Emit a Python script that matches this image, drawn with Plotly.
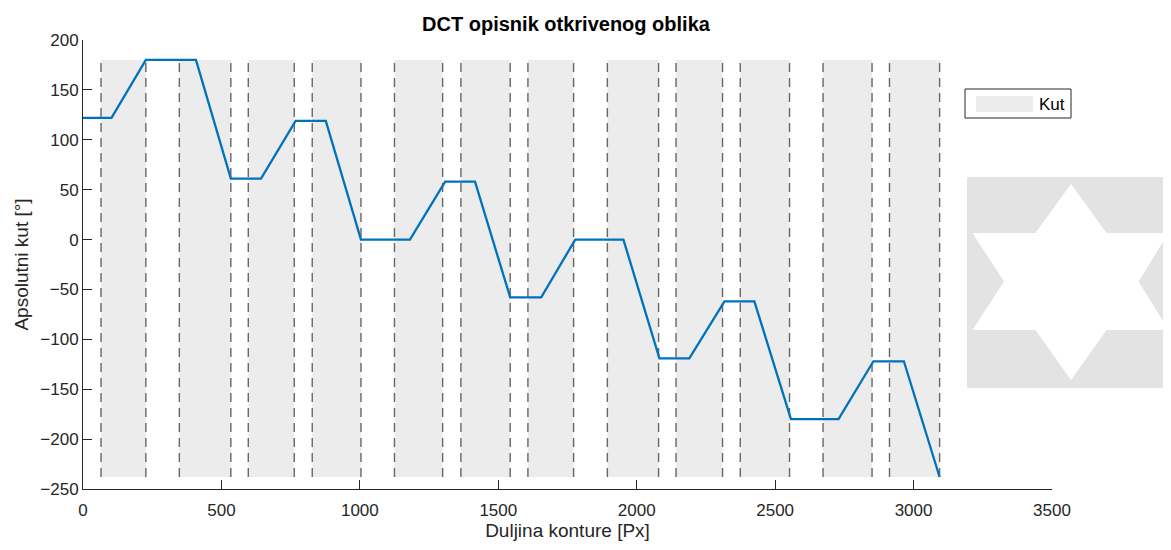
import plotly.graph_objects as go

# ---------------------------------------------------------------- podaci
# krivulja apsolutnog kuta po duljini konture
duljina = [0, 103, 227, 408, 534, 643, 768, 877, 1004, 1181, 1308, 1416, 1543,
           1655, 1778, 1952, 2082, 2190, 2317, 2425, 2557, 2729, 2855, 2965, 3094]
kut = [122, 122, 180, 180, 61, 61, 119, 119, 0, 0, 58, 58, -58,
       -58, 0, 0, -119, -119, -62, -62, -180, -180, -122, -122, -238]

# osjencani segmenti (pocetak / kraj)
seg_pocetak = [65, 348, 597, 828, 1125, 1365, 1607, 1894, 2142, 2374, 2673, 2913]
seg_kraj = [227, 534, 763, 1004, 1299, 1543, 1772, 2079, 2310, 2552, 2850, 3094]

# stranica ima 8px margine tijela -> figura je pomaknuta
OFF = 8
W, H = 1171 - OFF, 550 - OFF
L_SCR, R_SCR, T_SCR, B_SCR = 83, 1052, 40, 489   # rub osi na ekranu
ML, MR, MT, MB = L_SCR - OFF, W - (R_SCR - OFF), T_SCR - OFF, H - (B_SCR - OFF)
PW, PH = R_SCR - L_SCR, B_SCR - T_SCR


def px(x):
    return (x - L_SCR) / PW


def py(y):
    return (B_SCR - y) / PH


y_min, y_max = min(kut), max(kut)

# pravokutnici segmenata kao jedan trace
rx, ry = [], []
for a, b in zip(seg_pocetak, seg_kraj):
    rx += [a, b, b, a, a, None]
    ry += [y_min, y_min, y_max, y_max, y_min, None]

# isprekidane granice
dx, dy = [], []
for g in seg_pocetak + seg_kraj:
    dx += [g, g, None]
    dy += [y_min, y_max, None]

fig = go.Figure()

fig.add_trace(go.Scatter(
    x=rx, y=ry, fill='toself', fillcolor='#ececec', mode='none',
    name='Kut', hoverinfo='skip', showlegend=False
))

fig.add_trace(go.Scatter(
    x=dx, y=dy, mode='lines', showlegend=False, hoverinfo='skip',
    line=dict(color='#666666', width=1.4, dash='9px,6px')
))

fig.add_trace(go.Scatter(
    x=duljina, y=kut, mode='lines', showlegend=False,
    line=dict(color='#0072BD', width=2.3)
))

# slicica oblika (zvijezda) desno
star_px = [(1071, 184), (1106.5, 233), (1168.5, 233), (1138.5, 281.5), (1168.5, 330),
           (1106.5, 330), (1071, 380), (1035.5, 330), (972.5, 330), (1004, 281.5),
           (972.5, 233), (1035.5, 233)]
path = 'M ' + ' L '.join(f'{px(a):.5f},{py(b):.5f}' for a, b in star_px) + ' Z'

shapes = [
    dict(type='rect', xref='paper', yref='paper', x0=px(967), x1=px(1180),
         y0=py(388), y1=py(177), fillcolor='#e3e3e3', line_width=0, layer='above'),
    dict(type='path', xref='paper', yref='paper', path=path,
         fillcolor='white', line_width=0, layer='above'),
    # legenda (okvir + uzorak)
    dict(type='rect', xref='paper', yref='paper', x0=px(965), x1=px(1071),
         y0=py(118), y1=py(89), fillcolor='white', line=dict(color='#262626', width=1),
         layer='above'),
    dict(type='rect', xref='paper', yref='paper', x0=px(976), x1=px(1033),
         y0=py(112), y1=py(96), fillcolor='#ececec', line_width=0, layer='above'),
]

annotations = [
    dict(text='Kut', xref='paper', yref='paper', x=px(1037), y=py(104),
         xanchor='left', yanchor='middle', showarrow=False,
         font=dict(size=17, color='black')),
]

fig.update_layout(
    width=W, height=H,
    margin=dict(l=ML, r=MR, t=MT, b=MB),
    plot_bgcolor='white', paper_bgcolor='white',
    font=dict(family='Liberation Sans, Arial', size=17, color='#262626'),
    title=dict(text='<b>DCT opisnik otkrivenog oblika</b>', x=px(566), xref='paper',
               xanchor='center', y=1 - (24 - OFF) / H, yanchor='middle',
               font=dict(size=20, color='black')),
    xaxis=dict(range=[0, 3500], tickvals=[0, 500, 1000, 1500, 2000, 2500, 3000, 3500],
               showgrid=False, zeroline=False, showline=True, linecolor='#262626',
               linewidth=1, ticks='inside', ticklen=9, tickcolor='#262626',
               ticklabelstandoff=6,
               title=dict(text='Duljina konture [Px]', standoff=4, font=dict(size=19))),
    yaxis=dict(range=[-250, 200], tickvals=list(range(-250, 201, 50)),
               showgrid=False, zeroline=False, showline=True, linecolor='#262626',
               linewidth=1, ticks='inside', ticklen=9, tickcolor='#262626',
               title=dict(text='Apsolutni kut [°]', standoff=6, font=dict(size=19))),
    shapes=shapes,
    annotations=annotations,
    showlegend=False,
)

fig.write_html('out.html')
